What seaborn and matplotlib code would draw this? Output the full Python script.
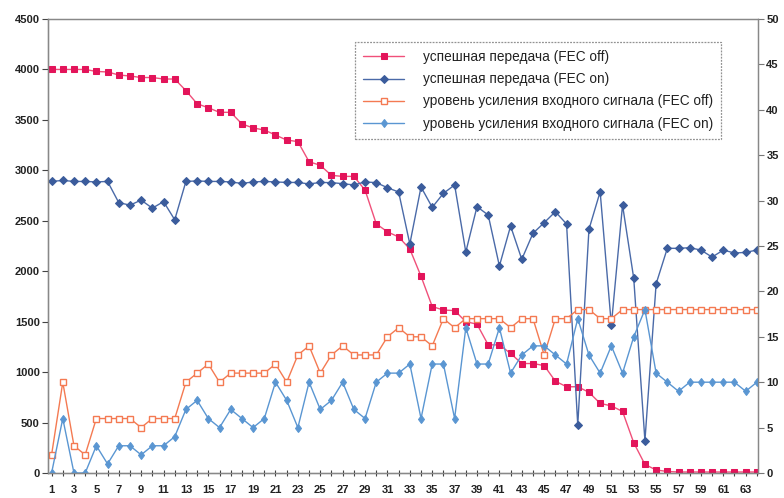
import matplotlib
matplotlib.use("Agg")
import matplotlib.pyplot as plt
import seaborn as sns
import pandas as pd
from matplotlib.ticker import MultipleLocator

sns.set_theme(style="white")
plt.rcParams['font.family'] = ['Liberation Sans', 'DejaVu Sans']

# test index
x = list(range(1, 65))

# successful transmissions (left axis)
ok_fec_off = [4000, 4000, 4000, 4000, 3980, 3975, 3945, 3935, 3920, 3920,
              3905, 3905, 3790, 3660, 3620, 3575, 3575, 3460, 3420, 3400,
              3350, 3300, 3285, 3085, 3050, 2950, 2940, 2940, 2805, 2470,
              2390, 2340, 2220, 1950, 1650, 1615, 1610, 1500, 1475, 1270,
              1270, 1185, 1085, 1085, 1065, 910, 855, 855, 800, 690,
              665, 610, 300, 85, 30, 15, 10, 10, 10, 10,
              10, 10, 10, 10]
ok_fec_on = [2890, 2900, 2890, 2890, 2885, 2890, 2680, 2655, 2705, 2625,
             2690, 2510, 2890, 2895, 2890, 2890, 2885, 2870, 2885, 2890,
             2885, 2880, 2880, 2865, 2880, 2878, 2868, 2855, 2885, 2878,
             2828, 2785, 2270, 2835, 2633, 2772, 2855, 2190, 2640, 2557,
             2052, 2448, 2118, 2376, 2481, 2590, 2468, 476, 2415, 2788,
             1467, 2656, 1930, 320, 1875, 2227, 2227, 2233, 2210, 2140,
             2210, 2180, 2187, 2210]

# input signal gain level (right axis)
gain_fec_off = [2, 10, 3, 2, 6, 6, 6, 6, 5, 6,
                6, 6, 10, 11, 12, 10, 11, 11, 11, 11,
                12, 10, 13, 14, 11, 13, 14, 13, 13, 13,
                15, 16, 15, 15, 14, 17, 16, 17, 17, 17,
                17, 16, 17, 17, 13, 17, 17, 18, 18, 17,
                17, 18, 18, 18, 18, 18, 18, 18, 18, 18,
                18, 18, 18, 18]
gain_fec_on = [0, 6, 0, 0, 3, 1, 3, 3, 2, 3,
               3, 4, 7, 8, 6, 5, 7, 6, 5, 6,
               10, 8, 5, 10, 7, 8, 10, 7, 6, 10,
               11, 11, 12, 6, 12, 12, 6, 16, 12, 12,
               16, 11, 13, 14, 14, 13, 12, 17, 13, 11,
               14, 11, 15, 18, 11, 10, 9, 10, 10, 10,
               10, 10, 9, 10]

labels = ["успешная передача (FEC off)",
          "успешная передача (FEC on)",
          "уровень усиления входного сигнала (FEC off)",
          "уровень усиления входного сигнала (FEC on)"]

df = pd.DataFrame({"x": x, "a": ok_fec_off, "b": ok_fec_on,
                   "c": gain_fec_off, "d": gain_fec_on})

fig = plt.figure(figsize=(7.84, 4.98), dpi=100)
ax = fig.add_axes([48 / 784, 1 - 473 / 498, (758 - 48) / 784, (473 - 19) / 498])
ax2 = ax.twinx()

sns.lineplot(data=df, x="x", y="a", ax=ax, color="#f0507a", lw=1.0,
             marker="s", markersize=4.5, markerfacecolor="#e3145a",
             markeredgecolor="#e3145a", label=labels[0], legend=False)
sns.lineplot(data=df, x="x", y="b", ax=ax, color="#4a6aa8", lw=1.0,
             marker="D", markersize=4, markerfacecolor="#3b5c9c",
             markeredgecolor="#3b5c9c", label=labels[1], legend=False)
sns.lineplot(data=df, x="x", y="c", ax=ax2, color="#f47a52", lw=1.0,
             marker="s", markersize=5, markerfacecolor="white",
             markeredgecolor="#f47a52", markeredgewidth=1.0,
             label=labels[2], legend=False)
sns.lineplot(data=df, x="x", y="d", ax=ax2, color="#5a96d2", lw=1.0,
             marker="d", markersize=4.5, markerfacecolor="#5a96d2",
             markeredgecolor="#5a96d2", label=labels[3], legend=False)

ax.set_xlim(0.68, 64.1)
ax.set_ylim(0, 4500)
ax2.set_ylim(0, 50)
ax.set_xlabel("")
ax.set_ylabel("")
ax2.set_ylabel("")

tick_font = dict(fontsize=8, fontweight="bold", color="#222222")
ax.set_xticks(list(range(1, 64, 2)))
ax.set_xticklabels([str(v) for v in range(1, 64, 2)], **tick_font)
ax.xaxis.set_minor_locator(MultipleLocator(1))
ax.set_yticks(list(range(0, 4501, 500)))
ax.set_yticklabels([str(v) for v in range(0, 4501, 500)], **tick_font)
ax2.set_yticks(list(range(0, 51, 5)))
ax2.set_yticklabels([str(v) for v in range(0, 51, 5)], **tick_font)

ax.tick_params(axis="x", which="both", direction="inout", length=5, width=0.8,
               color="#444444", pad=6, bottom=True)
ax.tick_params(axis="y", direction="out", length=4, width=0.8,
               color="#444444", pad=2, left=True)
ax2.tick_params(axis="y", direction="out", length=4, width=0.8,
                color="#777777", pad=2, right=True)

for a in (ax, ax2):
    for side, sp in a.spines.items():
        sp.set_visible(True)
        sp.set_linestyle((0, (1.5, 1)))
        sp.set_linewidth(0.9)
        sp.set_edgecolor("#888888")
ax.spines["left"].set_edgecolor("#444444")
ax.spines["bottom"].set_edgecolor("#444444")

handles = ax.get_lines()[:2] + ax2.get_lines()[:2]
leg = ax.legend(handles, labels, loc="upper left",
                bbox_to_anchor=((355 - 48) / 710, (473 - 42) / 454),
                frameon=True, fancybox=False, fontsize=9.8, handlelength=3.0,
                handletextpad=1.4, borderpad=0.6, labelspacing=0.6,
                borderaxespad=0)
leg.get_frame().set_edgecolor("#777777")
leg.get_frame().set_linestyle((0, (1.5, 1)))
leg.get_frame().set_linewidth(0.9)
for t in leg.get_texts():
    t.set_color("#222222")

fig.savefig("out.png", dpi=100)
